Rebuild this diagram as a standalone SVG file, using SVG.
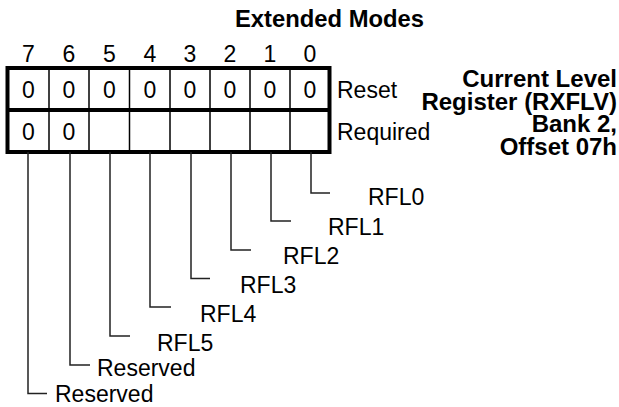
<svg xmlns="http://www.w3.org/2000/svg" width="619" height="407" viewBox="0 0 619 407">
<style>
text{font-family:"Liberation Sans",Arial,sans-serif;fill:#000}
.r{font-size:23px}
.d{font-size:23px;text-anchor:middle}
.b{font-size:23.8px;font-weight:bold}
.rb{font-size:24px;font-weight:bold;text-anchor:end}
.thin{stroke:#000;stroke-width:1.5;fill:none}
.lead{stroke:#222;stroke-width:1.5;fill:none}
.thick{stroke:#000;stroke-width:4;fill:none}
</style>
<rect width="619" height="407" fill="#fff"/>
<g id="title"><text class="b" x="235" y="27">Extended Modes</text></g>
<g id="bitnumbers">
<text class="d" x="28.3" y="62">7</text>
<text class="d" x="69" y="62">6</text>
<text class="d" x="109.3" y="62">5</text>
<text class="d" x="149.8" y="62">4</text>
<text class="d" x="190" y="62">3</text>
<text class="d" x="230" y="62">2</text>
<text class="d" x="270" y="62">1</text>
<text class="d" x="310" y="62">0</text>
</g>
<g id="register">
<line class="thin" x1="49" y1="68" x2="49" y2="152"/>
<line class="thin" x1="89" y1="68" x2="89" y2="152"/>
<line class="thin" x1="129.5" y1="68" x2="129.5" y2="152"/>
<line class="thin" x1="170" y1="68" x2="170" y2="152"/>
<line class="thin" x1="210" y1="68" x2="210" y2="152"/>
<line class="thin" x1="250" y1="68" x2="250" y2="152"/>
<line class="thin" x1="290" y1="68" x2="290" y2="152"/>
<line class="thick" x1="7.5" y1="110" x2="329.5" y2="110"/>
<rect class="thick" x="7.5" y="68" width="322" height="84"/>
<text class="d" x="28.3" y="97.5">0</text>
<text class="d" x="69" y="97.5">0</text>
<text class="d" x="109.3" y="97.5">0</text>
<text class="d" x="149.8" y="97.5">0</text>
<text class="d" x="190" y="97.5">0</text>
<text class="d" x="230" y="97.5">0</text>
<text class="d" x="270" y="97.5">0</text>
<text class="d" x="310" y="97.5">0</text>
<text class="d" x="28.3" y="140">0</text>
<text class="d" x="69" y="140">0</text>
</g>
<g id="rowlabels">
<text class="r" x="337" y="97.5">Reset</text>
<text class="r" x="337" y="140">Required</text>
</g>
<g id="regname">
<text class="rb" x="617" y="87">Current Level</text>
<text class="rb" x="617" y="109.5">Register (RXFLV)</text>
<text class="rb" x="617" y="132">Bank 2,</text>
<text class="rb" x="617" y="155">Offset 07h</text>
</g>
<g id="connectors">
<polyline class="lead" points="311,152 311,193 330,193"/>
<polyline class="lead" points="271,152 271,221 291,221"/>
<polyline class="lead" points="231,152 231,250 251,250"/>
<polyline class="lead" points="191,152 191,278.5 210,278.5"/>
<polyline class="lead" points="150,152 150,307 171,307"/>
<polyline class="lead" points="110,152 110,336 130,336"/>
<polyline class="lead" points="70,152 70,365 90,365"/>
<polyline class="lead" points="28,152 28,393.5 47,393.5"/>
</g>
<g id="fieldlabels">
<text class="r" x="368" y="205">RFL0</text>
<text class="r" x="328" y="234.5">RFL1</text>
<text class="r" x="283" y="263.5">RFL2</text>
<text class="r" x="240" y="292.5">RFL3</text>
<text class="r" x="200" y="321.5">RFL4</text>
<text class="r" x="157" y="350.5">RFL5</text>
<text class="r" x="97" y="376">Reserved</text>
<text class="r" x="55" y="401.5">Reserved</text>
</g>
</svg>
